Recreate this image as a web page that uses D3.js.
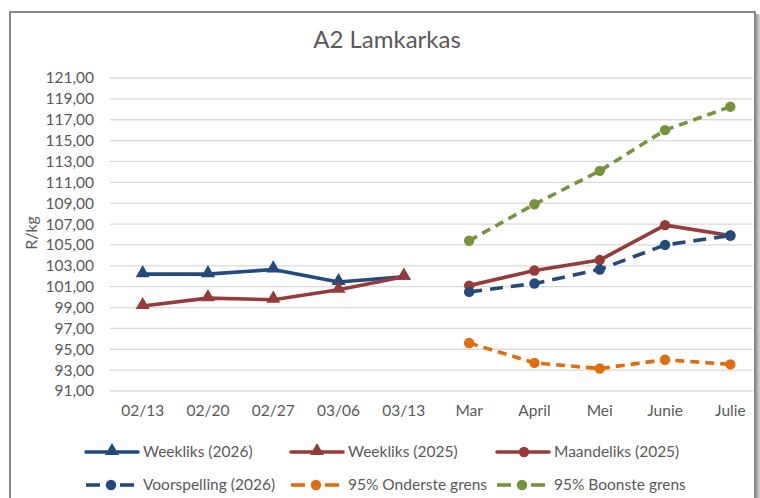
<!DOCTYPE html>
<html>
<head>
<meta charset="utf-8">
<script src="https://cdn.jsdelivr.net/npm/d3@7"></script>
<style>
  body { margin: 0; background: #fff; }
  text { font-family: Lato, "Open Sans", sans-serif; fill: #595959; }
</style>
</head>
<body>
<div id="chart"></div>
<script>
var weekCats = ["02/13", "02/20", "02/27", "03/06", "03/13"];
var monthCats = ["Mar", "April", "Mei", "Junie", "Julie"];
var weekly2026 = [102.2, 102.2, 102.65, 101.45, 101.95];
var weekly2025 = [99.15, 99.9, 99.75, 100.7, 101.95];
var monthly2025 = [101.1, 102.55, 103.55, 106.9, 105.9];
var forecast2026 = [100.5, 101.3, 102.65, 105.0, 105.9];
var lower95 = [95.6, 93.7, 93.15, 94.0, 93.55];
var upper95 = [105.4, 108.9, 112.1, 116.0, 118.25];
var yTicks = d3.range(91, 122, 2);

var width = 760,
    height = 498;

var series = [
  {name: "Weekliks (2026)", cats: weekCats, values: weekly2026, color: "#234a7d", dash: null, marker: "triangle"},
  {name: "Weekliks (2025)", cats: weekCats, values: weekly2025, color: "#973b39", dash: null, marker: "triangle"},
  {name: "Maandeliks (2025)", cats: monthCats, values: monthly2025, color: "#973b39", dash: null, marker: "circle"},
  {name: "Voorspelling (2026)", cats: monthCats, values: forecast2026, color: "#234a7d", dash: "13,8", marker: "circle"},
  {name: "95% Onderste grens", cats: monthCats, values: lower95, color: "#e36c0a", dash: "9,6", marker: "circle"},
  {name: "95% Boonste grens", cats: monthCats, values: upper95, color: "#77933c", dash: "9,6", marker: "circle"}
];

var svg = d3.select("#chart").append("svg")
    .attr("width", width)
    .attr("height", height);

// shadow on the right edge
var grad = svg.append("defs").append("linearGradient")
    .attr("id", "shadow").attr("x1", 0).attr("x2", 1);
grad.append("stop").attr("offset", 0).attr("stop-color", "#9a9a9a");
grad.append("stop").attr("offset", 1).attr("stop-color", "#d8d8d8");
svg.append("rect").attr("x", 756).attr("y", 14).attr("width", 4).attr("height", height)
    .attr("fill", "url(#shadow)");

svg.append("rect")
    .attr("x", 10).attr("y", 12)
    .attr("width", 745).attr("height", 500)
    .attr("fill", "#fff")
    .attr("stroke", "#6a6a6a")
    .attr("stroke-width", 1.6);

var x = d3.scaleBand()
    .domain(weekCats.concat(monthCats))
    .range([110, 763]);
var y = d3.scaleLinear()
    .domain([91, 121])
    .range([391, 78]);

function cx(c) { return x(c) + x.bandwidth() / 2; }

// gridlines
svg.append("g").selectAll("line")
    .data(yTicks)
    .join("line")
    .attr("x1", 110).attr("x2", 753)
    .attr("y1", function (d) { return y(d); })
    .attr("y2", function (d) { return y(d); })
    .attr("stroke", "#d9d9d9")
    .attr("stroke-width", 1.3);

var fmt = function (d) { return d3.format(".2f")(d).replace(".", ","); };

var yAxis = svg.append("g")
    .attr("transform", "translate(104,0)")
    .call(d3.axisLeft(y).tickValues(yTicks).tickFormat(fmt).tickSize(0).tickPadding(10));
yAxis.select(".domain").remove();
yAxis.selectAll("text").attr("font-size", 15.5).attr("font-family", null);

var xAxis = svg.append("g")
    .attr("transform", "translate(0,403)")
    .call(d3.axisBottom(x).tickSize(0).tickPadding(2));
xAxis.select(".domain").remove();
xAxis.selectAll("text").attr("font-size", 15.5).attr("font-family", null);

svg.append("text")
    .attr("x", 387).attr("y", 48)
    .attr("text-anchor", "middle")
    .attr("font-size", 24)
    .text("A2 Lamkarkas");

svg.append("text")
    .attr("transform", "translate(37,233) rotate(-90)")
    .attr("text-anchor", "middle")
    .attr("font-size", 16)
    .text("R/kg");

var tri = d3.symbol().type(d3.symbolTriangle).size(85);

function drawMarker(g, s, px, py) {
  if (s.marker === "triangle") {
    g.append("path")
        .attr("d", tri)
        .attr("transform", "translate(" + px + "," + (py - 1) + ")")
        .attr("fill", s.color);
  } else {
    g.append("circle")
        .attr("cx", px).attr("cy", py).attr("r", 5.2)
        .attr("fill", s.color);
  }
}

var line = d3.line()
    .x(function (d) { return cx(d.c); })
    .y(function (d) { return y(d.v); });

var plot = svg.append("g");
series.forEach(function (s) {
  var pts = s.values.map(function (v, i) { return {c: s.cats[i], v: v}; });
  var g = plot.append("g");
  g.append("path")
      .attr("d", line(pts))
      .attr("fill", "none")
      .attr("stroke", s.color)
      .attr("stroke-width", 3.6)
      .attr("stroke-linejoin", "round")
      .attr("stroke-dasharray", s.dash);
  pts.forEach(function (p) { drawMarker(g, s, cx(p.c), y(p.v)); });
});

// legend
var legendPos = [[86, 452], [291, 452], [497, 452], [86, 485], [291, 485], [497, 485]];
var legend = svg.append("g");
series.forEach(function (s, i) {
  var lx = legendPos[i][0], ly = legendPos[i][1];
  var g = legend.append("g");
  var len = s.dash ? 48 : 52;
  if (s.dash) {
    g.append("line").attr("x1", lx).attr("x2", lx + 14).attr("y1", ly).attr("y2", ly)
        .attr("stroke", s.color).attr("stroke-width", 3.6);
    g.append("line").attr("x1", lx + len - 14).attr("x2", lx + len).attr("y1", ly).attr("y2", ly)
        .attr("stroke", s.color).attr("stroke-width", 3.6);
  } else {
    g.append("line").attr("x1", lx).attr("x2", lx + len).attr("y1", ly).attr("y2", ly)
        .attr("stroke", s.color).attr("stroke-width", 3.6).attr("stroke-linecap", "round");
  }
  drawMarker(g, s, lx + len / 2 + (s.marker === "triangle" ? 0 : 1), ly);
  g.append("text")
      .attr("x", lx + 57).attr("y", ly)
      .attr("dy", "0.35em")
      .attr("font-size", 15.5)
      .text(s.name);
});
</script>
</body>
</html>
